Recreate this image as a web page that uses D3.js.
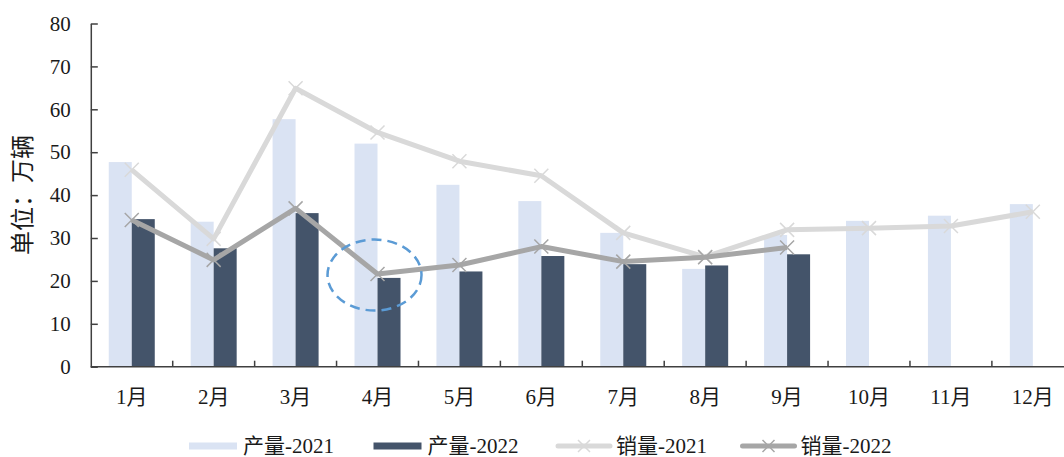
<!DOCTYPE html>
<html>
<head>
<meta charset="utf-8">
<script src="https://cdn.jsdelivr.net/npm/d3@7"></script>
<style>
  body { margin: 0; background: #fff; }
  text { font-family: "Liberation Serif", "Noto Sans CJK SC", serif; fill: #1a1a1a; }
</style>
</head>
<body>
<div class="chart"></div>
<script>
var months = ["1月", "2月", "3月", "4月", "5月", "6月", "7月", "8月", "9月", "10月", "11月", "12月"];
var prod2021 = [47.7, 33.8, 57.7, 52.0, 42.4, 38.6, 31.2, 22.8, 30.7, 34.0, 35.2, 37.9];
var prod2022 = [34.4, 27.6, 35.8, 20.7, 22.2, 25.8, 23.9, 23.6, 26.2];
var sales2021 = [45.9, 29.8, 64.9, 54.6, 47.9, 44.5, 31.2, 25.6, 31.9, 32.3, 32.8, 36.1];
var sales2022 = [34.2, 24.9, 36.9, 21.6, 23.7, 28.0, 24.5, 25.5, 27.8];
var yTicks = [0, 10, 20, 30, 40, 50, 60, 70, 80];
var legendNames = ["产量-2021", "产量-2022", "销量-2021", "销量-2022"];

var svgWidth = 1064;
var svgHeight = 457;

var margin = { top: 23.5, left: 90.8 };
var width = 983;
var height = 343.2;

var svg = d3.select(".chart")
  .append("svg")
  .attr("width", svgWidth)
  .attr("height", svgHeight);

var chartGroup = svg.append("g")
  .attr("transform", `translate(${margin.left}, ${margin.top})`);

var xScale = d3.scaleBand()
  .domain(months)
  .range([0, width]);

var yScale = d3.scaleLinear()
  .domain([0, 80])
  .range([height, 0]);

var barW = 23;

// bars 2021
chartGroup.selectAll(".bar21")
  .data(prod2021)
  .enter()
  .append("rect")
  .attr("x", (d, i) => xScale(months[i]) + xScale.bandwidth() / 2 - barW)
  .attr("y", d => yScale(d))
  .attr("width", barW)
  .attr("height", d => height - yScale(d))
  .attr("fill", "#dae3f3");

// bars 2022
chartGroup.selectAll(".bar22")
  .data(prod2022)
  .enter()
  .append("rect")
  .attr("x", (d, i) => xScale(months[i]) + xScale.bandwidth() / 2)
  .attr("y", d => yScale(d))
  .attr("width", barW)
  .attr("height", d => height - yScale(d))
  .attr("fill", "#44546a");

// axes
var leftAxis = d3.axisLeft(yScale)
  .tickValues(yTicks)
  .tickSizeInner(-7)
  .tickSizeOuter(0)
  .tickPadding(20);

var yAxis = chartGroup.append("g").call(leftAxis);
yAxis.select(".domain").attr("stroke", "#404040").attr("stroke-width", 1.5);
yAxis.selectAll(".tick line").attr("stroke", "#404040").attr("stroke-width", 1.5);
yAxis.selectAll("text")
  .style("font-size", "21px")
  .attr("fill", "#1a1a1a");

var xAxis = chartGroup.append("g")
  .attr("transform", `translate(0, ${height})`);
xAxis.append("line")
  .attr("x1", 0).attr("x2", width)
  .attr("stroke", "#404040").attr("stroke-width", 1.5);
xAxis.selectAll(".xtick")
  .data(months.slice(1))
  .enter()
  .append("line")
  .attr("x1", d => xScale(d)).attr("x2", d => xScale(d))
  .attr("y1", 0).attr("y2", -6)
  .attr("stroke", "#404040").attr("stroke-width", 1.5);
xAxis.selectAll(".xlabel")
  .data(months)
  .enter()
  .append("text")
  .attr("x", d => xScale(d) + xScale.bandwidth() / 2)
  .attr("y", 37)
  .attr("text-anchor", "middle")
  .style("font-size", "21px")
  .text(d => d);

// lines
var cx = (d, i) => xScale(months[i]) + xScale.bandwidth() / 2;
var lineGen = d3.line().x(cx).y(d => yScale(d));

function drawSeries(data, color) {
  chartGroup.append("path")
    .datum(data)
    .attr("d", lineGen)
    .attr("fill", "none")
    .attr("stroke", color)
    .attr("stroke-width", 5)
    .attr("stroke-linejoin", "round");
  var s = 7;
  chartGroup.selectAll(null)
    .data(data)
    .enter()
    .append("path")
    .attr("d", (d, i) => {
      var x = cx(d, i), y = yScale(d);
      return `M${x - s},${y - s}L${x + s},${y + s}M${x - s},${y + s}L${x + s},${y - s}`;
    })
    .attr("stroke", color)
    .attr("stroke-width", 1.5)
    .attr("fill", "none");
}
drawSeries(sales2021, "#d9d9d9");
drawSeries(sales2022, "#a6a6a6");

// highlight ellipse around April 2022
chartGroup.append("ellipse")
  .attr("cx", xScale("4月") + xScale.bandwidth() / 2 - 3)
  .attr("cy", yScale(sales2022[3]) + 1)
  .attr("rx", 47)
  .attr("ry", 35.5)
  .attr("fill", "none")
  .attr("stroke", "#5b9bd5")
  .attr("stroke-width", 2.5)
  .attr("stroke-dasharray", "10,6");

// y label
svg.append("text")
  .attr("transform", "translate(31, 195) rotate(-90)")
  .attr("text-anchor", "middle")
  .style("font-size", "24px")
  .attr("fill", "#333")
  .text("单位：万辆");

// legend
var legend = svg.append("g").attr("transform", "translate(189, 446)");
var items = legend.selectAll("g")
  .data(legendNames)
  .enter()
  .append("g")
  .attr("transform", (d, i) => `translate(${i * 184.5}, 0)`);

var legendColors = ["#dae3f3", "#44546a", "#d9d9d9", "#a6a6a6"];
items.each(function(d, i) {
  var g = d3.select(this);
  if (i < 2) {
    g.append("rect")
      .attr("x", 0).attr("y", -3.5)
      .attr("width", 48).attr("height", 7)
      .attr("fill", legendColors[i]);
  } else {
    g.append("line")
      .attr("x1", 0).attr("x2", 52)
      .attr("stroke", legendColors[i]).attr("stroke-width", 5)
      .attr("stroke-linecap", "round");
    g.append("path")
      .attr("d", "M20,-6L32,6M20,6L32,-6")
      .attr("stroke", legendColors[i]).attr("stroke-width", 1.5);
  }
  g.append("text")
    .attr("x", i < 2 ? 54 : 58)
    .attr("y", 7)
    .style("font-size", "21px")
    .text(d);
});
</script>
</body>
</html>
